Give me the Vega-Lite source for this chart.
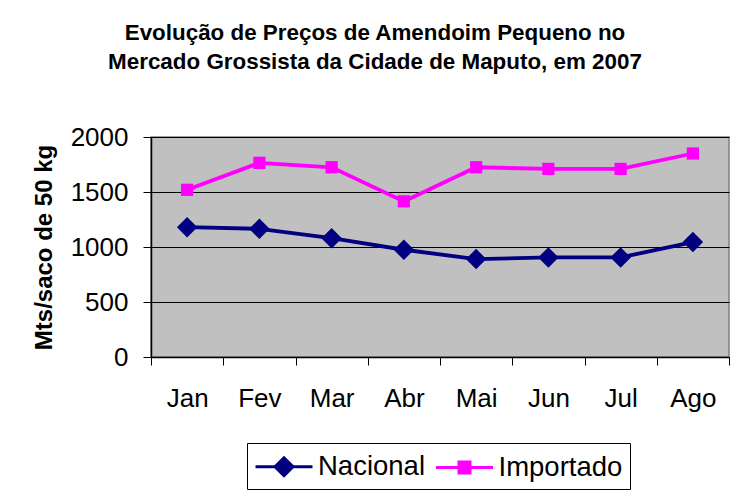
{
  "$schema": "https://vega.github.io/schema/vega-lite/v6.json",
  "autosize": "none",
  "width": 578,
  "height": 220,
  "padding": {"left": 151, "top": 137, "right": 22, "bottom": 141},
  "background": "white",
  "config": {
    "font": "Liberation Sans",
    "view": {"fill": "#C0C0C0", "stroke": "#808080", "strokeWidth": 1.5}
  },
  "title": {
    "text": ["Evolução de Preços de Amendoim Pequeno no", "Mercado Grossista da Cidade de Maputo, em 2007"],
    "font": "Liberation Sans",
    "fontSize": 22.4,
    "fontWeight": "bold",
    "color": "black",
    "lineHeight": 29,
    "anchor": "middle",
    "dx": -65,
    "offset": 51
  },
  "data": {
    "values": [
      {"month": "Jan", "series": "Nacional", "price": 1180},
      {"month": "Fev", "series": "Nacional", "price": 1165},
      {"month": "Mar", "series": "Nacional", "price": 1080},
      {"month": "Abr", "series": "Nacional", "price": 975},
      {"month": "Mai", "series": "Nacional", "price": 890},
      {"month": "Jun", "series": "Nacional", "price": 905},
      {"month": "Jul", "series": "Nacional", "price": 905},
      {"month": "Ago", "series": "Nacional", "price": 1045},
      {"month": "Jan", "series": "Importado", "price": 1520},
      {"month": "Fev", "series": "Importado", "price": 1765},
      {"month": "Mar", "series": "Importado", "price": 1725},
      {"month": "Abr", "series": "Importado", "price": 1415},
      {"month": "Mai", "series": "Importado", "price": 1725},
      {"month": "Jun", "series": "Importado", "price": 1710},
      {"month": "Jul", "series": "Importado", "price": 1710},
      {"month": "Ago", "series": "Importado", "price": 1850}
    ]
  },
  "encoding": {
    "x": {
      "field": "month",
      "type": "ordinal",
      "sort": ["Jan", "Fev", "Mar", "Abr", "Mai", "Jun", "Jul", "Ago"],
      "scale": {"paddingInner": 0, "paddingOuter": 0},
      "axis": {
        "title": null,
        "labelAngle": 0,
        "labelFontSize": 26,
        "labelColor": "black",
        "labelPadding": 20,
        "tickBand": "extent",
        "tickSize": 8,
        "tickColor": "black",
        "domainColor": "black",
        "domainWidth": 1.5,
        "grid": false
      }
    },
    "y": {
      "field": "price",
      "type": "quantitative",
      "scale": {"domain": [0, 2000]},
      "axis": {
        "title": "Mts/saco de 50 kg",
        "titleFontSize": 24,
        "titleFontWeight": "bold",
        "titleColor": "black",
        "titlePadding": 14,
        "values": [0, 500, 1000, 1500, 2000],
        "format": "d",
        "labelFontSize": 26,
        "labelColor": "black",
        "labelPadding": 15,
        "tickSize": 8,
        "tickColor": "black",
        "domainColor": "black",
        "domainWidth": 1.5,
        "grid": true,
        "gridColor": "black",
        "gridWidth": 1,
        "gridOpacity": 1
      }
    }
  },
  "layer": [
    {
      "mark": {"type": "line", "strokeWidth": 3.8},
      "encoding": {
        "color": {
          "field": "series",
          "type": "nominal",
          "scale": {"domain": ["Importado", "Nacional"], "range": ["#FF00FF", "#000080"]},
          "legend": null
        }
      }
    },
    {
      "transform": [{"filter": "datum.series == 'Nacional'"}],
      "mark": {"type": "point", "shape": "diamond", "filled": true, "size": 420, "opacity": 1},
      "encoding": {
        "color": {
          "field": "series",
          "type": "nominal",
          "scale": {"domain": ["Importado", "Nacional"], "range": ["#FF00FF", "#000080"]},
          "legend": null
        }
      }
    },
    {
      "transform": [{"filter": "datum.series == 'Importado'"}],
      "mark": {"type": "point", "shape": "square", "filled": true, "size": 150, "opacity": 1},
      "encoding": {
        "color": {
          "field": "series",
          "type": "nominal",
          "scale": {"domain": ["Importado", "Nacional"], "range": ["#FF00FF", "#000080"]},
          "legend": null
        }
      }
    },
    {
      "mark": {"type": "point", "filled": true, "opacity": 0},
      "encoding": {
        "fill": {
          "field": "series",
          "type": "nominal",
          "scale": {"domain": ["Nacional", "Importado"], "range": ["#000080", "#FF00FF"]},
          "legend": {
            "title": null,
            "orient": "none",
            "legendX": 96,
            "legendY": 306,
            "direction": "horizontal",
            "strokeColor": "black",
            "padding": 7,
            "symbolSize": 900,
            "symbolStrokeWidth": 3,
            "symbolOpacity": 1,
            "labelFontSize": 27.5,
            "labelColor": "black",
            "labelOffset": 31,
            "columnPadding": 3.5
          }
        },
        "stroke": {
          "field": "series",
          "type": "nominal",
          "scale": {"domain": ["Nacional", "Importado"], "range": ["#000080", "#FF00FF"]}
        },
        "shape": {
          "field": "series",
          "type": "nominal",
          "scale": {
            "domain": ["Nacional", "Importado"],
            "range": [
              "M-1,0H2.8M0.9,-0.6L1.5,0L0.9,0.6L0.3,0ZM0.9,-0.48L1.38,0L0.9,0.48L0.42,0ZM0.9,-0.36L1.26,0L0.9,0.36L0.54,0ZM0.9,-0.24L1.14,0L0.9,0.24L0.66,0ZM0.9,-0.12L1.02,0L0.9,0.12L0.78,0Z",
              "M-1,0H2.8M0.533,-0.367H1.267V0.367H0.533ZM0.633,-0.267H1.167V0.267H0.633ZM0.733,-0.167H1.067V0.167H0.733ZM0.833,-0.067H0.967V0.067H0.833Z"
            ]
          }
        }
      }
    }
  ]
}
